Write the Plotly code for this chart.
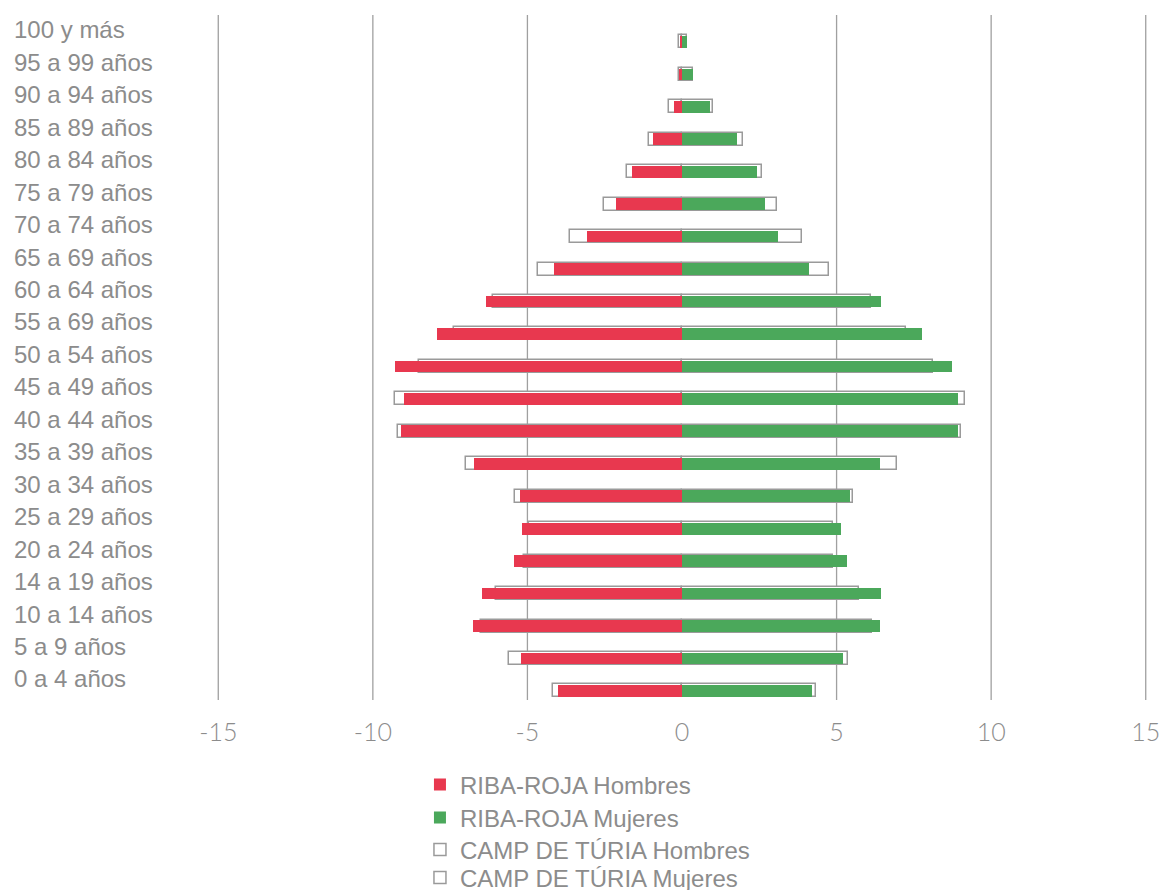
import plotly.graph_objects as go

# Age groups, bottom to top of the pyramid
age_groups = [
    "0 a 4 años", "5 a 9 años", "10 a 14 años", "14 a 19 años", "20 a 24 años",
    "25 a 29 años", "30 a 34 años", "35 a 39 años", "40 a 44 años", "45 a 49 años",
    "50 a 54 años", "55 a 69 años", "60 a 64 años", "65 a 69 años", "70 a 74 años",
    "75 a 79 años", "80 a 84 años", "85 a 89 años", "90 a 94 años", "95 a 99 años",
    "100 y más",
]

# Share of population (%) per age group; men on the negative side
riba_roja_hombres = [
    -4.02, -5.22, -6.75, -6.46, -5.45, -5.17, -5.23, -6.73, -9.09, -9.00,
    -9.28, -7.92, -6.35, -4.14, -3.06, -2.13, -1.63, -0.95, -0.26, -0.09, -0.06,
]
riba_roja_mujeres = [
    4.20, 5.22, 6.41, 6.45, 5.35, 5.13, 5.42, 6.41, 8.94, 8.94,
    8.74, 7.75, 6.45, 4.10, 3.11, 2.68, 2.41, 1.77, 0.90, 0.37, 0.15,
]
camp_turia_hombres = [
    -4.18, -5.61, -6.50, -6.02, -5.10, -4.94, -5.40, -6.98, -9.19, -9.28,
    -8.52, -7.38, -6.10, -4.67, -3.62, -2.51, -1.79, -1.08, -0.41, -0.10, -0.09,
]
camp_turia_mujeres = [
    4.33, 5.38, 6.14, 5.72, 4.89, 4.88, 5.52, 6.95, 9.01, 9.14,
    8.13, 7.24, 6.11, 4.75, 3.88, 3.06, 2.60, 1.98, 1.01, 0.35, 0.17,
]

x_ticks = [-15, -10, -5, 0, 5, 10, 15]
grid_values = [-15, -10, -5, 5, 10, 15]

RED = "#E8384F"
GREEN = "#4BA85B"
OUTLINE = "#9A9A9A"
TEXT = "#8C8C8C"
LABEL_FONT = dict(family="Liberation Sans, Arial, sans-serif", size=24, color=TEXT)

fig = go.Figure()

# Comarca reference (outlined, behind)
fig.add_trace(go.Bar(
    y=age_groups, x=camp_turia_hombres, orientation="h",
    name="CAMP DE TÚRIA Hombres", width=0.40, legend="legend3",
    marker=dict(color="white", line=dict(color=OUTLINE, width=1.5)),
))
fig.add_trace(go.Bar(
    y=age_groups, x=camp_turia_mujeres, orientation="h",
    name="CAMP DE TÚRIA Mujeres", width=0.40, legend="legend4",
    marker=dict(color="white", line=dict(color=OUTLINE, width=1.5)),
))
# Municipality (filled, in front)
fig.add_trace(go.Bar(
    y=age_groups, x=riba_roja_hombres, orientation="h",
    name="RIBA-ROJA Hombres", width=0.36, legend="legend",
    marker=dict(color=RED, line=dict(width=0)),
))
fig.add_trace(go.Bar(
    y=age_groups, x=riba_roja_mujeres, orientation="h",
    name="RIBA-ROJA Mujeres", width=0.36, legend="legend2",
    marker=dict(color=GREEN, line=dict(width=0)),
))

# Vertical grid lines (no line at zero)
for gv in grid_values:
    fig.add_shape(type="line", x0=gv, x1=gv, y0=0, y1=1, xref="x", yref="paper",
                  line=dict(color="#A0A0A0", width=1.3), layer="below")

# Left-aligned age labels
for grp in age_groups:
    fig.add_annotation(
        x=-0.2078, xref="paper", xanchor="left",
        y=grp, yref="y", yshift=12,
        text=grp, showarrow=False, font=LABEL_FONT,
    )


def legend_row(center_px):
    # one stacked legend row, centred at a given pixel height below the plot
    return dict(
        x=0.223, xanchor="left", y=-(center_px - 700) / 685, yanchor="middle",
        orientation="v", font=LABEL_FONT,
        bgcolor="rgba(0,0,0,0)", itemclick=False, itemdoubleclick=False,
    )


fig.update_layout(
    width=1165, height=890,
    margin=dict(l=209, r=10, t=15, b=190, autoexpand=False),
    paper_bgcolor="white", plot_bgcolor="white",
    barmode="overlay", bargap=0,
    showlegend=True,
    legend=legend_row(785),
    legend2=legend_row(818),
    legend3=legend_row(850),
    legend4=legend_row(878),
    xaxis=dict(
        range=[-15.3, 15.3], tickvals=x_ticks, ticktext=[str(v) for v in x_ticks],
        showgrid=False, zeroline=False, showline=False, ticks="",
        ticklabelstandoff=15,
        tickfont=dict(family="Lato, Inter, sans-serif", size=25, color=TEXT, weight=300),
    ),
    yaxis=dict(
        type="category", categoryorder="array", categoryarray=age_groups,
        range=[-0.28, 20.83], showticklabels=False, showgrid=False,
        zeroline=False, showline=False, ticks="",
    ),
)

fig.write_html("out.html")
